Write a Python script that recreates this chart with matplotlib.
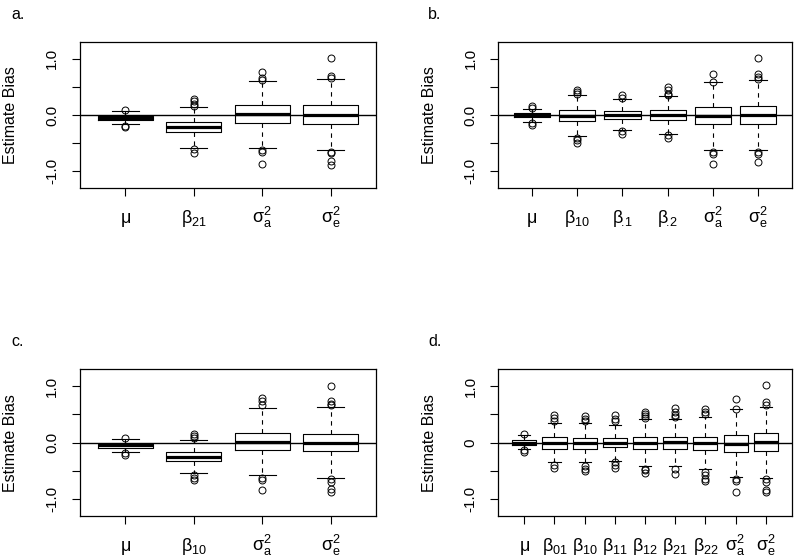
import matplotlib
matplotlib.use("Agg")
import matplotlib.pyplot as plt

plt.rcParams['font.family'] = ['Liberation Sans', 'DejaVu Sans']
plt.rcParams['mathtext.fontset'] = 'custom'
plt.rcParams['mathtext.rm'] = 'Liberation Sans'
plt.rcParams['mathtext.it'] = 'Liberation Sans'

# panel a
a_names = [r'$\mu$', r'$\beta_{21}$', r'$\sigma^2_a$', r'$\sigma^2_e$']
a_med = [-0.05, -0.21, 0.02, 0.005]
a_q1 = [-0.09, -0.31, -0.135, -0.153]
a_q3 = [-0.02, -0.13, 0.17, 0.17]
a_lo = [-0.165, -0.58, -0.59, -0.62]
a_hi = [0.065, 0.135, 0.61, 0.635]
a_out = [[0.08, -0.19, -0.22],
         [0.28, 0.24, 0.19, 0.16, -0.6, -0.68],
         [0.765, 0.665, 0.63, -0.63, -0.66, -0.865],
         [1.02, 0.69, 0.665, -0.65, -0.68, -0.82, -0.89]]

# panel b
b_names = [r'$\mu$', r'$\beta_{10}$', r'$\beta_{\!.\!1}$', r'$\beta_{\!.\!2}$',
           r'$\sigma^2_a$', r'$\sigma^2_e$']
b_med = [0.0, -0.01, 0.0, 0.0, -0.01, 0.005]
b_q1 = [-0.03, -0.1, -0.07, -0.095, -0.165, -0.155]
b_q3 = [0.03, 0.095, 0.07, 0.08, 0.135, 0.16]
b_lo = [-0.12, -0.37, -0.265, -0.34, -0.62, -0.62]
b_hi = [0.11, 0.36, 0.28, 0.34, 0.58, 0.62]
b_out = [[0.16, 0.125, -0.135, -0.17],
         [0.45, 0.41, 0.38, -0.4, -0.44, -0.49],
         [0.35, 0.31, -0.29, -0.335],
         [0.49, 0.44, 0.38, 0.35, -0.36, -0.4],
         [0.735, 0.59, -0.665, -0.69, -0.865],
         [1.005, 0.72, 0.675, 0.635, -0.65, -0.69, -0.84]]

# panel c
c_names = [r'$\mu$', r'$\beta_{10}$', r'$\sigma^2_a$', r'$\sigma^2_e$']
c_med = [-0.05, -0.25, 0.02, 0.0]
c_q1 = [-0.09, -0.32, -0.135, -0.15]
c_q3 = [-0.025, -0.17, 0.17, 0.16]
c_lo = [-0.16, -0.53, -0.58, -0.62]
c_hi = [0.065, 0.04, 0.62, 0.635]
c_out = [[0.08, -0.18, -0.21],
         [0.15, 0.12, 0.08, -0.58, -0.62, -0.66],
         [0.79, 0.73, 0.67, -0.62, -0.665, -0.835],
         [1.005, 0.73, 0.69, 0.66, -0.65, -0.69, -0.82, -0.88]]

# panel d
d_names = [r'$\mu$', r'$\beta_{01}$', r'$\beta_{10}$', r'$\beta_{11}$', r'$\beta_{12}$',
           r'$\beta_{21}$', r'$\beta_{22}$', r'$\sigma^2_a$', r'$\sigma^2_e$']
d_med = [0.0, 0.0, -0.01, 0.0, 0.0, 0.005, 0.0, -0.02, 0.005]
d_q1 = [-0.035, -0.105, -0.105, -0.08, -0.11, -0.11, -0.13, -0.16, -0.155]
d_q3 = [0.045, 0.1, 0.09, 0.075, 0.1, 0.1, 0.105, 0.14, 0.165]
d_lo = [-0.12, -0.34, -0.35, -0.32, -0.41, -0.41, -0.47, -0.6, -0.62]
d_hi = [0.135, 0.35, 0.35, 0.32, 0.42, 0.42, 0.46, 0.59, 0.63]
d_out = [[0.16, -0.135, -0.165],
         [0.48, 0.435, 0.39, -0.4, -0.445],
         [0.47, 0.42, 0.38, -0.41, -0.46, -0.5],
         [0.48, 0.42, 0.375, -0.35, -0.4, -0.44],
         [0.55, 0.51, 0.47, 0.435, -0.46, -0.49, -0.535],
         [0.61, 0.55, 0.49, 0.45, -0.47, -0.55],
         [0.6, 0.55, 0.51, -0.52, -0.58, -0.635, -0.68],
         [0.765, 0.59, -0.635, -0.68, -0.87],
         [1.01, 0.72, 0.67, -0.65, -0.69, -0.83, -0.87]]

y_ticks = [-1.0, -0.5, 0.0, 0.5, 1.0]
y_labels = ['-1.0', '', '0.0', '', '1.0']
d_y_labels = ['-1.0', '', '0', '', '1.0']


def draw_panel(ax, names, med, q1, q3, lo, hi, out, ylabels):
    n = len(names)
    stats = []
    for i in range(n):
        stats.append(dict(med=med[i], q1=q1[i], q3=q3[i],
                          whislo=lo[i], whishi=hi[i], fliers=out[i]))
    pos = list(range(1, n + 1))
    ax.bxp(stats, positions=pos, widths=0.8, capwidths=0.4,
           boxprops=dict(color='black', linewidth=0.8),
           medianprops=dict(color='black', linewidth=2.3, solid_capstyle='butt'),
           whiskerprops=dict(color='black', linewidth=0.8, linestyle=(0, (4, 4))),
           capprops=dict(color='black', linewidth=0.8),
           flierprops=dict(marker='o', markerfacecolor='none', markeredgecolor='black',
                           markersize=5, markeredgewidth=0.7))
    ax.axhline(0, color='black', linewidth=1.0, zorder=5)
    ax.set_xlim(0.5 - 0.04 * n, n + 0.5 + 0.04 * n)
    ax.set_ylim(-1.296, 1.296)
    ax.set_yticks(y_ticks)
    ax.set_yticklabels(ylabels, rotation=90, va='center', fontsize=11)
    ax.set_xticks(pos)
    ax.set_xticklabels(names, fontsize=13)
    for t in ax.get_xticklabels():
        t.set_va('baseline')
    ax.tick_params(axis='x', length=6, width=0.8, pad=19)
    ax.tick_params(axis='y', length=6, width=0.8, pad=9)
    for s in ax.spines.values():
        s.set_linewidth(0.9)
    ax.set_ylabel('Estimate Bias', fontsize=11.5)
    ax.yaxis.set_label_coords(-0.21, 0.5)


fig = plt.figure(figsize=(8, 5.58), dpi=100)
ax_a = fig.add_axes([0.1, 0.6631, 0.37, 0.2616])
ax_b = fig.add_axes([0.6229, 0.6631, 0.3668, 0.2616])
ax_c = fig.add_axes([0.1, 0.0753, 0.37, 0.2629])
ax_d = fig.add_axes([0.6229, 0.0753, 0.3668, 0.2629])

draw_panel(ax_a, a_names, a_med, a_q1, a_q3, a_lo, a_hi, a_out, y_labels)
draw_panel(ax_b, b_names, b_med, b_q1, b_q3, b_lo, b_hi, b_out, y_labels)
draw_panel(ax_c, c_names, c_med, c_q1, c_q3, c_lo, c_hi, c_out, y_labels)
draw_panel(ax_d, d_names, d_med, d_q1, d_q3, d_lo, d_hi, d_out, d_y_labels)

fig.text(11 / 800, 1 - 19 / 558, 'a.', fontsize=11.5, va='baseline')
fig.text(428 / 800, 1 - 19 / 558, 'b.', fontsize=11.5, va='baseline')
fig.text(11 / 800, 1 - 346 / 558, 'c.', fontsize=11.5, va='baseline')
fig.text(428 / 800, 1 - 346 / 558, 'd.', fontsize=11.5, va='baseline')

fig.savefig('out.png', dpi=100)
